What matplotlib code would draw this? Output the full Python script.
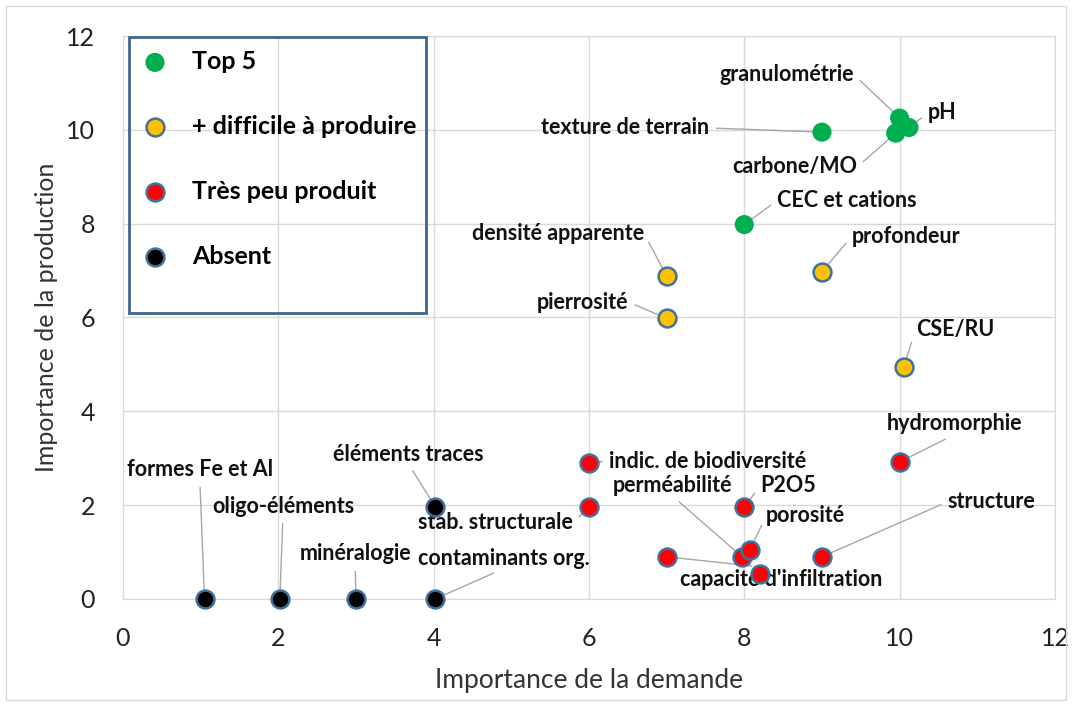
import matplotlib
matplotlib.use('Agg')
from matplotlib import pyplot as plt
from matplotlib.patches import Rectangle

# data: (demande, production)
top5_names = ['granulométrie', 'pH', 'texture de terrain', 'carbone/MO', 'CEC et cations']
top5_x = [10.0, 10.12, 9.0, 9.95, 8.0]
top5_y = [10.25, 10.05, 9.95, 9.93, 7.98]

diff_names = ['densité apparente', 'pierrosité', 'profondeur', 'CSE/RU']
diff_x = [7.0, 7.0, 9.0, 10.05]
diff_y = [6.88, 5.98, 6.98, 4.94]

peu_names = ['indic. de biodiversité', 'stab. structurale', 'hydromorphie', 'P2O5',
             'capacité d\'infiltration', 'perméabilité', 'porosité', 'structure', '']
peu_x = [6.0, 6.0, 10.0, 8.0, 7.0, 7.97, 8.07, 9.0, 8.2]
peu_y = [2.9, 1.95, 2.92, 1.95, 0.9, 0.9, 1.04, 0.9, 0.53]

abs_names = ['éléments traces', 'formes Fe et Al', 'oligo-éléments', 'minéralogie', 'contaminants org.']
abs_x = [4.02, 1.05, 2.02, 3.0, 4.02]
abs_y = [1.97, 0.0, 0.0, 0.0, 0.0]

legend_labels = ['Top 5', '+ difficile à produire', 'Très peu produit', 'Absent']

# label layout: text centre in data units, and where the leader line leaves the text
label_layout = {
    'granulométrie': (8.55, 11.17, (1, 0.5)),
    'pH': (10.55, 10.36, (0, 0.5)),
    'texture de terrain': (6.47, 10.04, (1, 0.5)),
    'carbone/MO': (8.65, 9.21, (1, 0.5)),
    'CEC et cations': (9.32, 8.49, (0, 0.5)),
    'densité apparente': (5.6, 7.8, (1, 0.5)),
    'pierrosité': (5.92, 6.33, (1, 0.5)),
    'profondeur': (10.08, 7.72, (0, 0.5)),
    'CSE/RU': (10.71, 5.74, (0, 0.5)),
    'hydromorphie': (10.71, 3.73, (0.5, 0)),
    'indic. de biodiversité': (7.53, 2.94, (0, 0.5)),
    'stab. structurale': (4.8, 1.64, (1, 0.5)),
    'perméabilité': (7.08, 2.41, (0.5, 0)),
    'P2O5': (8.56, 2.41, (0, 0.5)),
    'porosité': (8.79, 1.77, (0, 0.5)),
    'structure': (11.18, 2.07, (0, 0.5)),
    'capacité d\'infiltration': (8.48, 0.41, (0.5, 1)),
    'formes Fe et Al': (0.99, 2.75, (0.5, 0)),
    'oligo-éléments': (2.06, 1.98, (0.5, 0)),
    'minéralogie': (2.99, 0.96, (0.5, 0)),
    'contaminants org.': (4.9, 0.87, (0.5, 0)),
    'éléments traces': (3.68, 3.09, (0.5, 0)),
}

plt.rcParams['font.family'] = ['Lato', 'DejaVu Sans']

fig = plt.figure(figsize=(10.72, 7.06), dpi=100)
ax = fig.add_axes([0.1147, 0.1516, 0.8694, 0.7974])

edge = '#41719c'
ms = 165
s_green = ax.scatter(top5_x, top5_y, s=ms + 25, c='#00b050', edgecolors='none', zorder=4, clip_on=False)
s_yel = ax.scatter(diff_x, diff_y, s=ms, c='#ffc000', edgecolors=edge, linewidths=1.8, zorder=4, clip_on=False)
s_red = ax.scatter(peu_x, peu_y, s=ms, c='#ff0000', edgecolors=edge, linewidths=1.8, zorder=4, clip_on=False)
s_blk = ax.scatter(abs_x, abs_y, s=ms, c='#000000', edgecolors=edge, linewidths=1.8, zorder=4, clip_on=False)

for names, xs, ys in [(top5_names, top5_x, top5_y), (diff_names, diff_x, diff_y),
                      (peu_names, peu_x, peu_y), (abs_names, abs_x, abs_y)]:
    for n, x, y in zip(names, xs, ys):
        if not n:
            continue
        tx, ty, rp = label_layout[n]
        ax.annotate(n, xy=(x, y), xytext=(tx, ty), ha='center', va='center',
                    fontsize=15.5, fontweight='bold', color='#111111', zorder=3,
                    arrowprops=dict(arrowstyle='-', color='#a6a6a6', lw=1.0,
                                    relpos=rp, shrinkA=3, shrinkB=6))

ax.set_xlim(0, 12)
ax.set_ylim(0, 12)
ax.set_xticks(range(0, 13, 2))
ax.set_yticks(range(0, 13, 2))
ax.grid(True, color='#d9d9d9', lw=1.0)
ax.set_axisbelow(True)
for sp in ax.spines.values():
    sp.set_color('#d9d9d9')
ax.tick_params(length=0, labelsize=18, labelcolor='#222222')
ax.tick_params(axis='x', pad=20)
ax.tick_params(axis='y', pad=20)
ax.set_xlabel('Importance de la demande', fontsize=19, color='#333333', labelpad=13)
ax.set_ylabel('Importance de la production', fontsize=18, color='#333333', labelpad=6)

leg = ax.legend([s_green, s_yel, s_red, s_blk], legend_labels, loc='upper left',
                bbox_to_anchor=(0.0075, 0.993), frameon=False, labelspacing=1.68,
                handlelength=1.2, handletextpad=0.9, borderaxespad=0, scatterpoints=1,
                prop=dict(family='Lato', weight='bold', size=18))
ax.add_patch(Rectangle((0.0064, 0.508), 0.3187, 0.49, transform=ax.transAxes,
                       fill=False, edgecolor='#41658f', lw=2.0, zorder=5, clip_on=False))

fig.patches.append(Rectangle((0.006, 0.008), 0.988, 0.984, transform=fig.transFigure,
                             fill=False, edgecolor='#d9d9d9', lw=1.0))

fig.savefig('out.png', dpi=100)
